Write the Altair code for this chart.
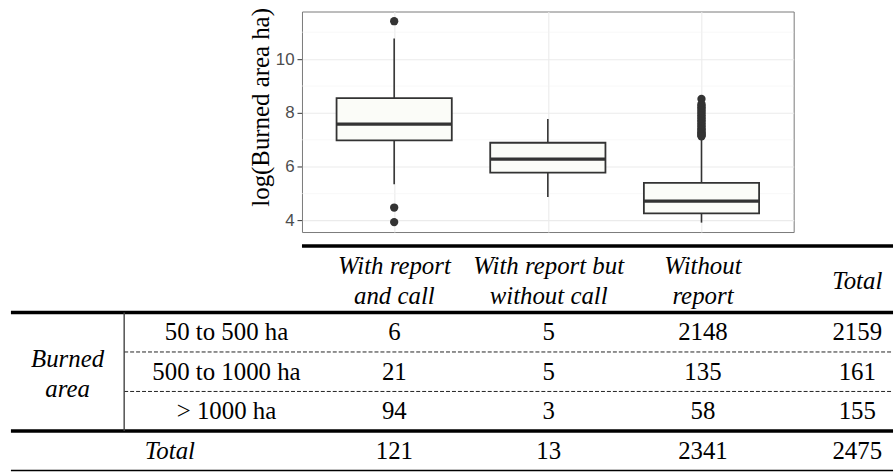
import altair as alt
import pandas as pd

# Reporting categories (shared by the boxplot and the count table)
categories = ["With report and call", "With report but without call", "Without report"]
header_labels = ["With report\nand call", "With report but\nwithout call", "Without\nreport"]

# Boxplot summaries of log(burned area, ha) per category
whisker_low = [5.35, 4.87, 3.92]
q1 = [6.98, 5.78, 4.26]
median = [7.58, 6.28, 4.72]
q3 = [8.55, 6.89, 5.40]
whisker_high = [10.77, 7.77, 7.08]

outliers_call = [11.41, 4.48, 3.94]
outliers_no_call = []
outliers_no_report = [8.52, 8.33, 8.27, 8.21, 8.15, 8.09, 8.03, 7.97, 7.91, 7.85,
                      7.79, 7.73, 7.67, 7.61, 7.55, 7.49, 7.43, 7.38, 7.33, 7.28,
                      7.24, 7.20, 7.16, 7.13]

minor_breaks = [5, 7, 9, 11]
major_breaks = [4, 6, 8, 10]

# Count table: burned-area class x reporting category
size_classes = ["50 to 500 ha", "500 to 1000 ha", "> 1000 ha"]
count_with_call = [6, 21, 94]
count_without_call = [5, 5, 3]
count_without_report = [2148, 135, 58]
count_row_total = [2159, 161, 155]
count_column_total = [121, 13, 2341, 2475]

SERIF = "Times New Roman, Liberation Serif, Times, serif"
SANS = "Arial, Liberation Sans, Helvetica, sans-serif"
INK = "#333333"

# ---------------- boxplot ----------------
box_df = pd.DataFrame({"cat": categories, "lo": whisker_low, "q1": q1,
                       "med": median, "q3": q3, "hi": whisker_high})
out_df = pd.DataFrame({
    "cat": [categories[0]] * len(outliers_call)
           + [categories[1]] * len(outliers_no_call)
           + [categories[2]] * len(outliers_no_report),
    "v": outliers_call + outliers_no_call + outliers_no_report,
})
minor_df = pd.DataFrame({"v": minor_breaks})

x_box = alt.Scale(type="point", domain=categories, padding=0.6)
y_box = alt.Scale(domain=[3.57, 11.77], nice=False, zero=False)

y_axis = alt.Axis(values=major_breaks, grid=True, gridColor="#ebebeb", gridWidth=1.1,
                  domain=False, ticks=True, tickColor=INK, tickSize=5, tickWidth=1,
                  labelColor="#4d4d4d", labelFont=SANS, labelFontSize=17, labelPadding=3,
                  title="log(Burned area ha)", titleFont=SERIF, titleFontSize=25,
                  titleFontWeight="normal", titleColor="black", titleAngle=270,
                  titleX=-34, titleY=96, titleAlign="center", titleBaseline="alphabetic")
x_axis = alt.Axis(labels=False, ticks=False, domain=False, title=None,
                  grid=True, gridColor="#ebebeb", gridWidth=1.1)

minor_grid = alt.Chart(minor_df).mark_rule(color="#f3f3f3", strokeWidth=0.6).encode(
    y=alt.Y("v:Q", scale=y_box, axis=y_axis))

whisk_lo = alt.Chart(box_df).mark_rule(color=INK, strokeWidth=1.6).encode(
    x=alt.X("cat:N", scale=x_box, axis=x_axis), y="lo:Q", y2="q1:Q")
whisk_hi = alt.Chart(box_df).mark_rule(color=INK, strokeWidth=1.6).encode(
    x=alt.X("cat:N", scale=x_box), y="q3:Q", y2="hi:Q")
boxes = alt.Chart(box_df).mark_bar(size=116, fill="#fbfcf8", stroke=INK, strokeWidth=1.8).encode(
    x=alt.X("cat:N", scale=x_box), y="q1:Q", y2="q3:Q")
medians = alt.Chart(box_df).mark_tick(orient="horizontal", size=116, thickness=3.2,
                                      color=INK, opacity=1).encode(
    x=alt.X("cat:N", scale=x_box), y="med:Q")
points = alt.Chart(out_df).mark_circle(size=70, color=INK, opacity=1).encode(
    x=alt.X("cat:N", scale=x_box), y="v:Q")

boxplot = alt.layer(minor_grid, whisk_lo, whisk_hi, boxes, medians, points).properties(
    width=495, height=222,
    view=alt.ViewBackground(stroke="#7a7a7a", strokeWidth=1, fill="white"))

# ---------------- table ----------------
# The table shares its left origin with the boxplot panel, so the row-header
# columns sit at negative x (to the left of the panel edge).
PANEL_LEFT = 301
def px(page_x):
    return page_x - PANEL_LEFT

TABLE_LEFT, TABLE_RIGHT, RULE_COL = px(8), px(896), px(122)

col_keys = categories + ["Total"]
row_keys = size_classes + ["Total"]

cells = []
for i, row in enumerate(size_classes):
    for col, vals in zip(col_keys, [count_with_call, count_without_call,
                                    count_without_report, count_row_total]):
        cells.append({"row": row, "col": col, "n": str(vals[i])})
for col, n in zip(col_keys, count_column_total):
    cells.append({"row": "Total", "col": col, "n": str(n)})
cells_df = pd.DataFrame(cells)

head_df = pd.DataFrame({"col": categories, "label": header_labels})
class_df = pd.DataFrame({"row": size_classes})

row_scale = alt.Scale(type="band", domain=row_keys, range=[79, 238],
                      paddingInner=0, paddingOuter=0)
col_scale = alt.Scale(type="point", domain=col_keys, range=[px(394), px(860)], padding=0)

def X():
    return alt.X("col:N", scale=col_scale, axis=None)

def Y(bp=0.5):
    return alt.Y("row:N", scale=row_scale, axis=None, bandPosition=bp)

txt = dict(font=SERIF, fontSize=25, color="black", align="center", baseline="middle")

head_rule = alt.Chart(pd.DataFrame({"row": ["head"]})).mark_rule(
    color="black", strokeWidth=3.4).encode(
    x=alt.value(0), x2=alt.value(TABLE_RIGHT), y=alt.value(12))
thick_rules = alt.Chart(pd.DataFrame({"row": [size_classes[0], "Total"]})).mark_rule(
    color="black", strokeWidth=3.4).encode(
    x=alt.value(TABLE_LEFT), x2=alt.value(TABLE_RIGHT), y=Y(0))
dashed_rules = alt.Chart(pd.DataFrame({"row": size_classes[1:]})).mark_rule(
    color="#222222", strokeWidth=1, strokeDash=[4, 2]).encode(
    x=alt.value(RULE_COL), x2=alt.value(TABLE_RIGHT), y=Y(0))
bottom_rule = alt.Chart(pd.DataFrame({"row": ["Total"]})).mark_rule(
    color="black", strokeWidth=1.5).encode(
    x=alt.value(TABLE_LEFT), x2=alt.value(TABLE_RIGHT), y=Y(1))
side_rule = alt.Chart(pd.DataFrame({"row": ["side"]})).mark_rule(
    color="#444444", strokeWidth=1.4).encode(
    x=alt.value(RULE_COL), y=alt.value(79), y2=alt.value(198.25))

header_text = alt.Chart(head_df).mark_text(
    fontStyle="italic", lineBreak="\n", lineHeight=30, **txt).encode(
    x=X(), y=alt.value(32), text="label:N")
total_header = alt.Chart(pd.DataFrame({"col": ["Total"]})).mark_text(
    fontStyle="italic", **txt).encode(
    x=X(), y=alt.value(47), text="col:N")
value_text = alt.Chart(cells_df).mark_text(**txt).encode(
    x=X(), y=Y(), text="n:N")
class_text = alt.Chart(class_df).mark_text(**txt).encode(
    x=alt.value(px(225)), y=Y(), text="row:N")
total_text = alt.Chart(pd.DataFrame({"row": ["Total"]})).mark_text(
    fontStyle="italic", **txt).encode(
    x=alt.value(px(168)), y=Y(), text="row:N")
group_text = alt.Chart(pd.DataFrame({"row": [size_classes[1]], "label": ["Burned\narea"]})).mark_text(
    fontStyle="italic", lineBreak="\n", lineHeight=30, dy=-13, **txt).encode(
    x=alt.value(px(65)), y=Y(), text="label:N")

table = alt.layer(head_rule, thick_rules, dashed_rules, bottom_rule, side_rule,
                  header_text, total_header, value_text, class_text, total_text,
                  group_text).properties(
    width=TABLE_RIGHT, height=239,
    view=alt.ViewBackground(stroke="transparent", fill="white"))

chart = alt.vconcat(boxplot, table, spacing=0).properties(
    padding={"left": 8, "top": 5, "right": 0, "bottom": 0}
).configure(background="white")

chart.save("out.html", embed_options={"renderer": "svg", "actions": False})
